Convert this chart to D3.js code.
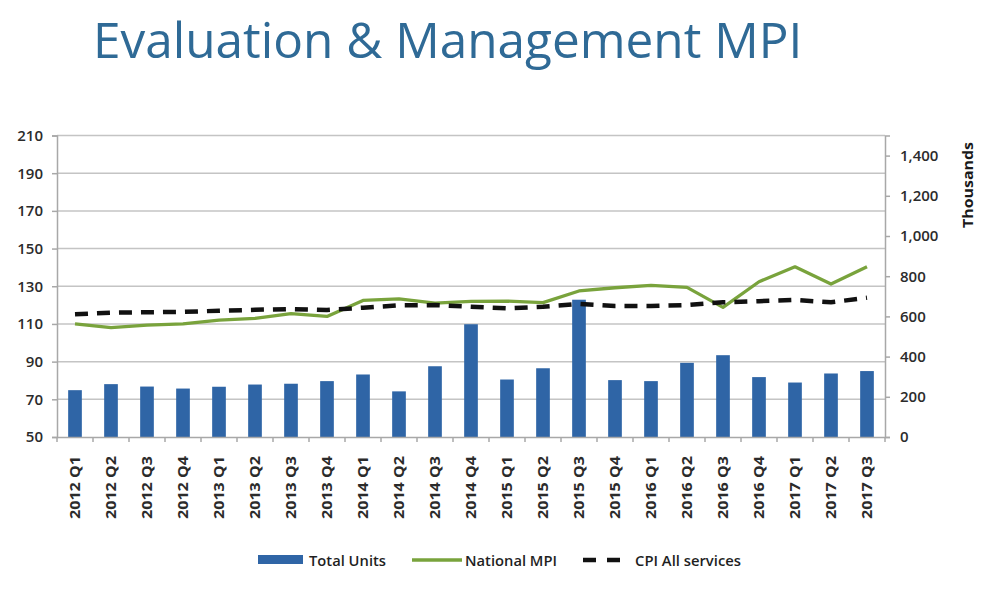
<!DOCTYPE html>
<html><head><meta charset="utf-8">
<script src="https://cdn.jsdelivr.net/npm/d3@7/dist/d3.min.js"></script>
<style>body{margin:0;background:#fff}svg{display:block}</style>
</head><body>
<svg id="c" width="1000" height="601"></svg>
<script>
const categories = ["2012 Q1","2012 Q2","2012 Q3","2012 Q4","2013 Q1","2013 Q2","2013 Q3","2013 Q4","2014 Q1","2014 Q2","2014 Q3","2014 Q4","2015 Q1","2015 Q2","2015 Q3","2015 Q4","2016 Q1","2016 Q2","2016 Q3","2016 Q4","2017 Q1","2017 Q2","2017 Q3"];
const totalUnits = [233,263,251,241,250,261,265,278,311,227,352,561,286,342,683,283,278,369,407,298,271,316,328];
const nationalMPI = [110,108,109.4,110,112,113,115.5,114,122.5,123.3,121,122,122.1,121.3,127.5,129.2,130.5,129.4,118.8,132.4,140.3,131.2,140.3];
const cpiAllServices = [115.1,116,116.2,116.4,117,117.5,117.9,117.4,118.6,119.9,120,119.1,118.3,119.1,120.6,119.5,119.5,120,121.5,122.1,122.7,121.5,123.9];
const leftTicks = [50,70,90,110,130,150,170,190,210];
const rightTicks = [0,200,400,600,800,1000,1200,1400];

const svg = d3.select("#c");
const L = 57, R = 885, T = 135.5, B = 437;
const x = d3.scaleBand().domain(categories).range([L, R]).paddingInner(0.62).paddingOuter(0.31);
const xp = d3.scalePoint().domain(categories).range([L + (R-L)/46, R - (R-L)/46]);
const yL = d3.scaleLinear().domain([50,210]).range([B, T]);
const yR = d3.scaleLinear().domain([0,1500]).range([B, T]);

// title
svg.append("text").attr("x", 93).attr("y", 58).attr("fill", "#2f6a96")
  .style("font-family","'Open Sans'").style("font-size","49.5px").text("Evaluation & Management MPI");

// gridlines
svg.append("g").selectAll("line").data(leftTicks.slice(1)).join("line")
  .attr("x1", L).attr("x2", R).attr("y1", d=>yL(d)).attr("y2", d=>yL(d))
  .attr("stroke","#c4c4c4").attr("stroke-width",1.5);

// bars
svg.append("g").selectAll("rect").data(totalUnits).join("rect")
  .attr("x",(d,i)=>x(categories[i])).attr("width",x.bandwidth())
  .attr("y",d=>yR(d)).attr("height",d=>B-yR(d)).attr("fill","#2f65a6");

// lines
const line = (ys, data) => d3.line().x((d,i)=>xp(categories[i])).y(d=>ys(d))(data);
svg.append("path").attr("d", line(yL, nationalMPI)).attr("fill","none")
  .attr("stroke","#79a33c").attr("stroke-width",3.3).attr("stroke-linejoin","round");
svg.append("path").attr("d", line(yL, cpiAllServices)).attr("fill","none")
  .attr("stroke","#111").attr("stroke-width",4.5).attr("stroke-dasharray","13,9");

// axes
const tf = "'Open Sans'";
const gL = svg.append("g").attr("transform",`translate(${L},0)`)
  .call(d3.axisLeft(yL).tickValues(leftTicks).tickSize(5).tickPadding(9));
const gR = svg.append("g").attr("transform",`translate(${R},0)`)
  .call(d3.axisRight(yR).tickValues(rightTicks).tickSize(5).tickPadding(10).tickFormat(d3.format(",")));
const gX = svg.append("g").attr("transform",`translate(0,${B})`)
  .call(d3.axisBottom(x).tickSize(0).tickPadding(12));
[gL,gR,gX].forEach(g=>{
  g.select(".domain").attr("stroke","#a8a8a8").attr("stroke-width",1.5);
  g.selectAll(".tick line").attr("stroke","#a8a8a8").attr("stroke-width",1.5);
  g.selectAll("text").attr("fill","#2b2b2b").style("font-family",tf).style("font-weight","600").style("font-size","15px");
});
gX.selectAll(".tick text").attr("transform","rotate(-90)").attr("text-anchor","end")
  .attr("x",-19).attr("y",0).attr("dy","0.35em").style("font-size","14.5px").style("font-weight","700")
  .attr("textLength",63).attr("lengthAdjust","spacingAndGlyphs");
// x band-boundary ticks
svg.append("g").selectAll("line").data(d3.range(categories.length+1)).join("line")
  .attr("x1",i=>L+i*(R-L)/categories.length).attr("x2",i=>L+i*(R-L)/categories.length)
  .attr("y1",B).attr("y2",B+5).attr("stroke","#a8a8a8").attr("stroke-width",1.5);

svg.append("text").attr("transform","translate(973,185) rotate(-90)").attr("text-anchor","middle")
  .style("font-family",tf).style("font-weight","700").style("font-size","15px").attr("fill","#1a1a1a")
  .attr("textLength",86).attr("lengthAdjust","spacingAndGlyphs").text("Thousands");

// legend
const lg = svg.append("g").style("font-family",tf).style("font-size","15px").style("font-weight","600").attr("fill","#1f1f1f");
lg.append("rect").attr("x",258).attr("y",555).attr("width",45).attr("height",9).attr("fill","#2f65a6");
lg.append("text").attr("x",309).attr("y",565.5).attr("textLength",77).attr("lengthAdjust","spacingAndGlyphs").text("Total Units");
lg.append("line").attr("x1",412).attr("x2",462).attr("y1",560).attr("y2",560).attr("stroke","#79a33c").attr("stroke-width",3.3);
lg.append("text").attr("x",465).attr("y",565.5).attr("textLength",92).attr("lengthAdjust","spacingAndGlyphs").text("National MPI");
lg.append("line").attr("x1",583).attr("x2",621).attr("y1",560).attr("y2",560).attr("stroke","#111").attr("stroke-width",4.5).attr("stroke-dasharray","13,11");
lg.append("text").attr("x",635).attr("y",565.5).attr("textLength",106).attr("lengthAdjust","spacingAndGlyphs").text("CPI All services");
</script>
</body></html>
